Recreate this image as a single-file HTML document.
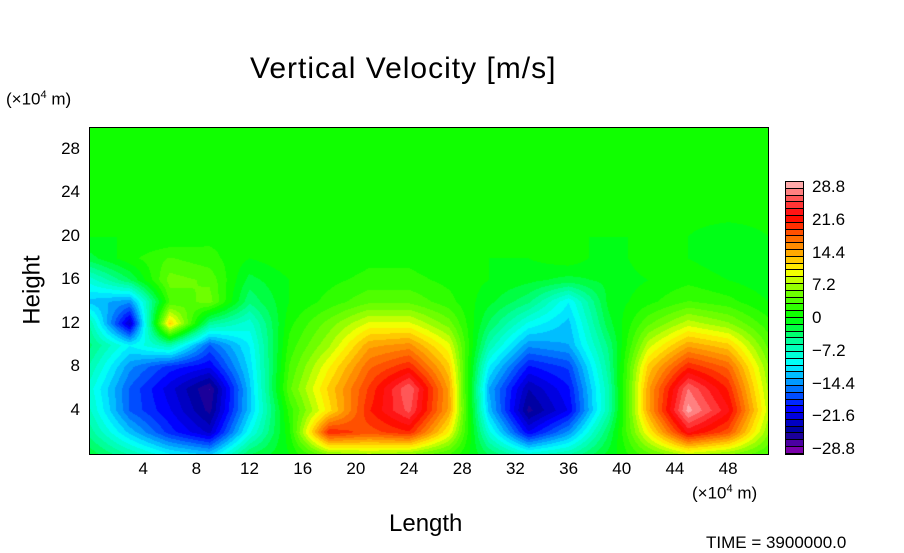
<!DOCTYPE html>
<html><head><meta charset="utf-8"><style>
body{margin:0;background:#fff;width:904px;height:544px;overflow:hidden;position:relative;font-family:"Liberation Sans",sans-serif}
.t{position:absolute;white-space:nowrap;color:#000}
</style></head><body>
<div class="t" style="left:250px;top:52px;font-size:30px;letter-spacing:1px">Vertical Velocity [m/s]</div>
<div class="t" style="left:6px;top:89px;font-size:17px">(×10<sup style="font-size:11px">4</sup> m)</div>
<div class="t" style="left:692px;top:483px;font-size:17px">(×10<sup style="font-size:11px">4</sup> m)</div>
<div class="t" style="left:389px;top:510px;font-size:24px">Length</div>
<div class="t" style="left:-2px;top:276px;font-size:24px;transform:rotate(-90deg)">Height</div>
<div class="t" style="left:706px;top:533px;font-size:17px">TIME = 3900000.0</div>
<canvas id="cv" width="678" height="326" style="position:absolute;left:90px;top:128px"></canvas>
<div style="position:absolute;left:89px;top:127px;width:678px;height:326px;border:1px solid #000"></div>
<div id="ax"></div>
<script>
const xNodes=[0,3,6,9,12,15,18,21,24,27,30,33,36,39,42,45,48,51];
const yNodes=[0,2,4,6,8,10,12,14,16,18,20,22,24,26,28,30];
const row0=[-2,-6,-10,-12,-3,0,6,7,6,3,-3,-8,-6,-1,4,8,6,3];
const row2=[-5,-12,-18,-22,-9,1,20,18,20,10,-8,-20,-14,-3,10,22,18,6];
const row4=[-7,-16,-20,-25,-12,2,11,20,25,14,-12,-25,-20,-6,14,28,22,8];
const row6=[-8,-16,-21,-26,-12,4,12,19,26,14,-13,-23,-19,-6,14,26,20,7];
const row8=[-6,-14,-18,-20,-11,3,10,17,20,12,-10,-19,-17,-5,12,20,17,6];
const row10=[-4,-10,-6,-16,-10,2,7,14,15,9,-6,-14,-13,-4,8,14,12,4];
const row12=[-6,-22,12,-5,-8,1,5,9,9,5,-3,-9,-12,-2,4,8,6,2];
const row14=[-12,-14,3,5,-4,0,2,4,4,2,-1,-4,-10,-1,1,3,2,0];
const row16=[-8,-3,5,4,-2,0,1,2,2,1,0,-1,-2,-1,0,1,0,-1];
const row18=[-2,1,3,2,0,1,0,1,1,0,0,0,1,-1,1,0,-1,-1];
const row20=[0,0,0,1,1,0,0,1,0,0,0,1,0,0,0,0,-1,0];
const row22=[0.5,0.5,0.5,0.5,0.5,0.5,0.5,0.5,0.5,0.5,0.5,0.5,0.5,0.5,0.5,0.5,0.5,0.5];
const row24=[0.5,0.5,0.5,0.5,0.5,0.5,0.5,0.5,0.5,0.5,0.5,0.5,0.5,0.5,0.5,0.5,0.5,0.5];
const row26=[0.5,0.5,0.5,0.5,0.5,0.5,0.5,0.5,0.5,0.5,0.5,0.5,0.5,0.5,0.5,0.5,0.5,0.5];
const row28=[0.5,0.5,0.5,0.5,0.5,0.5,0.5,0.5,0.5,0.5,0.5,0.5,0.5,0.5,0.5,0.5,0.5,0.5];
const row30=[0.5,0.5,0.5,0.5,0.5,0.5,0.5,0.5,0.5,0.5,0.5,0.5,0.5,0.5,0.5,0.5,0.5,0.5];
const grid=[row0,row2,row4,row6,row8,row10,row12,row14,row16,row18,row20,row22,row24,row26,row28,row30];
const xTicks=[4,8,12,16,20,24,28,32,36,40,44,48];
const yTicks=[4,8,12,16,20,24,28];
const cbLabels=[28.8,21.6,14.4,7.2,0,-7.2,-14.4,-21.6,-28.8];
const vmin=-28.8,vmax=28.8,nLev=40;
const stops=[[-28.8,[122,0,170]],[-25,[0,0,150]],[-20,[0,0,255]],[-15,[0,128,255]],[-10,[0,255,255]],[-5,[0,255,150]],[0,[0,255,0]],[6,[128,255,0]],[10,[255,255,0]],[14,[255,170,0]],[18,[255,90,0]],[22,[255,0,0]],[26,[255,90,90]],[28.8,[255,170,170]]];
function color(v){v=Math.max(vmin,Math.min(vmax,v));
 const i=Math.min(nLev-1,Math.floor((v-vmin)/((vmax-vmin)/nLev)));
 v=vmin+i*(vmax-vmin)/(nLev-1);
 for(let k=0;k<stops.length-1;k++){const a=stops[k],b=stops[k+1];if(v<=b[0]){const t=(v-a[0])/(b[0]-a[0]);return a[1].map((c,j)=>Math.round(c+(b[1][j]-c)*t));}}
 return stops[stops.length-1][1];}
const X0=90,W=678,Y0=128,H=326,XMAX=51,YMAX=30;
const sx=x=>X0+x/XMAX*W, sy=y=>Y0+H-y/YMAX*H;
function sample(x,y){
 let i=0;while(i<xNodes.length-2&&x>xNodes[i+1])i++;
 let j=0;while(j<yNodes.length-2&&y>yNodes[j+1])j++;
 const u=(x-xNodes[i])/(xNodes[i+1]-xNodes[i]),w=(y-yNodes[j])/(yNodes[j+1]-yNodes[j]);
 const a=grid[j][i],b=grid[j][i+1],c=grid[j+1][i],d=grid[j+1][i+1];
 return (a*(1-u)+b*u)*(1-w)+(c*(1-u)+d*u)*w;}
const cv=document.getElementById('cv'),ctx=cv.getContext('2d');const img=ctx.createImageData(W,H);
for(let py=0;py<H;py++)for(let px=0;px<W;px++){const col=color(sample((px+0.5)/W*XMAX,(H-py-0.5)/H*YMAX));const o=(py*W+px)*4;img.data[o]=col[0];img.data[o+1]=col[1];img.data[o+2]=col[2];img.data[o+3]=255;}
ctx.putImageData(img,0,0);
const ax=document.getElementById('ax');
xTicks.forEach(v=>{const d=document.createElement('div');d.className='t';


d.style.cssText=`left:${sx(v)-20}px;width:40px;text-align:center;top:459px;font-size:17px`;d.textContent=v;ax.appendChild(d);});
yTicks.forEach(v=>{const d=document.createElement('div');d.className='t';


d.style.cssText=`left:40px;width:40px;text-align:right;top:${sy(v)-11}px;font-size:17px`;d.textContent=v;ax.appendChild(d);});
const cb=document.createElement('div');


cb.style.cssText='position:absolute;left:785px;top:181px;width:17px;height:272px;border:1px solid #000;background:#000';
for(let i=nLev-1;i>=0;i--){const b=document.createElement('div');


const c=color(vmin+(i+0.5)*(vmax-vmin)/nLev);b.style.cssText=`height:5.8px;margin-bottom:1px;background:rgb(${c.join(',')})`;cb.appendChild(b);}
ax.appendChild(cb);
cbLabels.forEach(v=>{const d=document.createElement('div');d.className='t';


d.style.cssText=`left:812px;top:${449-(v-vmin)/(vmax-vmin)*262-10}px;font-size:17px`;d.textContent=(v<0?'−':'')+Math.abs(v);ax.appendChild(d);});
</script>
</body></html>
